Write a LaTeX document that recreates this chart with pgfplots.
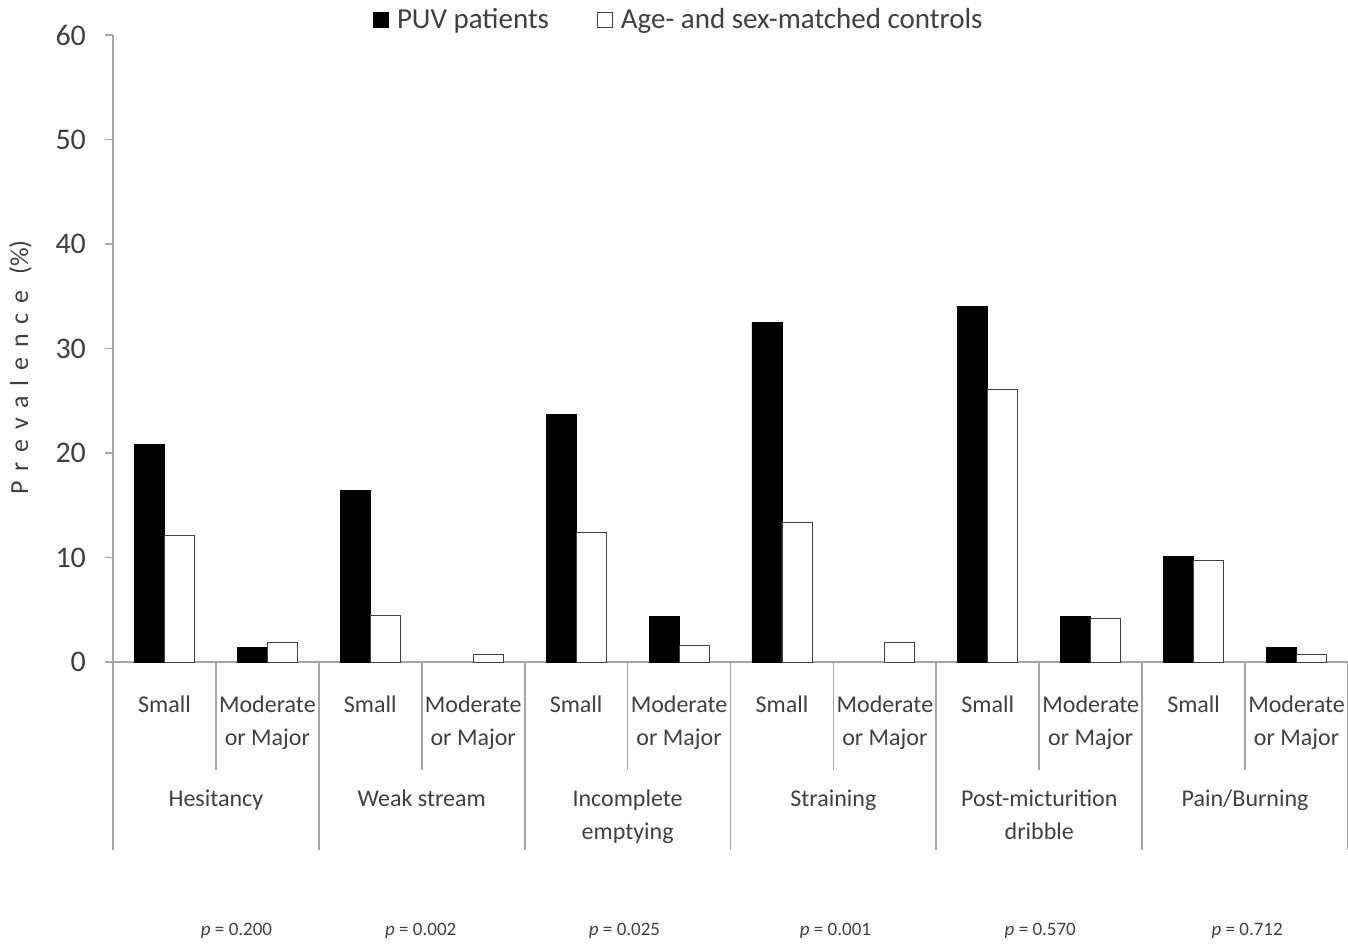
\documentclass[border=0pt]{standalone}
\usepackage{pgfplots}
\pgfplotsset{compat=1.18}
\usepackage{fontspec}
\setmainfont{Carlito}
\definecolor{axgray}{HTML}{A6A6A6}
\definecolor{txt}{HTML}{404040}
\begin{document}
\begin{tikzpicture}
\begin{axis}[
 name=ax,
 scale only axis, width=617.5pt, height=313.5pt,
 xmin=-0.5, xmax=11.5, ymin=0, ymax=60,
 ybar=0pt, bar width=15pt,
 axis x line*=bottom, axis y line*=left,
 axis line style={axgray, line width=0.9pt, -},
 ytick={0,10,...,60},
 /pgf/number format/assume math mode=true,
 yticklabel style={font=\fontsize{15}{18}\selectfont, text=txt, xshift=-6pt},
 xtick={0,...,11},
 xticklabels={Small,Moderate\\or Major,Small,Moderate\\or Major,Small,Moderate\\or Major,Small,Moderate\\or Major,Small,Moderate\\or Major,Small,Moderate\\or Major},
 xticklabel style={font=\fontsize{12}{16.5}\selectfont, text=txt, align=center, anchor=north, inner sep=0pt, yshift=-12.5pt},
 x tick style={draw=none},
 y tick style={axgray, line width=0.9pt},
 tick align=outside, major tick length=4pt,
 ylabel={\addfontfeature{LetterSpace=38}Prevalence \addfontfeature{LetterSpace=0}(\%)},
 ylabel style={font=\fontsize{13}{16}\selectfont, text=txt, at={(axis description cs:-0.075,0.47)}, anchor=center},
 clip=false,
 legend columns=2,
 legend style={draw=none, at={(0.459,1.024)}, anchor=center, font=\fontsize{14.5}{17}\selectfont, text=txt,
   /tikz/every odd column/.append style={column sep=2pt},
   /tikz/every even column/.append style={column sep=22pt}},
 legend image code/.code={\draw[#1] (0pt,-3.75pt) rectangle (7.5pt,3.75pt);},
]
\addplot[fill=black, draw=black] coordinates {
 (0,20.8) (1,1.4) (2,16.4) (4,23.7) (5,4.4) (6,32.5) (8,34.0) (9,4.4) (10,10.1) (11,1.4)};
\addplot[fill=white, draw=black!75] coordinates {
 (0,12.1) (1,1.9) (2,4.5) (3,0.7) (4,12.4) (5,1.6) (6,13.4) (7,1.9) (8,26.1) (9,4.2) (10,9.7) (11,0.7)};
\legend{PUV patients, Age- and sex-matched controls}
% separators
\draw[axgray, line width=0.9pt] (axis cs:0.5,0) -- (axis cs:0.5,-10.3);
\draw[axgray, line width=0.9pt] (axis cs:2.5,0) -- (axis cs:2.5,-10.3);
\draw[axgray, line width=0.9pt] (axis cs:4.5,0) -- (axis cs:4.5,-10.3);
\draw[axgray, line width=0.9pt] (axis cs:6.5,0) -- (axis cs:6.5,-10.3);
\draw[axgray, line width=0.9pt] (axis cs:8.5,0) -- (axis cs:8.5,-10.3);
\draw[axgray, line width=0.9pt] (axis cs:10.5,0) -- (axis cs:10.5,-10.3);
\draw[axgray, line width=0.9pt] (axis cs:-0.5,0) -- (axis cs:-0.5,-18);
\draw[axgray, line width=0.9pt] (axis cs:1.5,0) -- (axis cs:1.5,-18);
\draw[axgray, line width=0.9pt] (axis cs:3.5,0) -- (axis cs:3.5,-18);
\draw[axgray, line width=0.9pt] (axis cs:5.5,0) -- (axis cs:5.5,-18);
\draw[axgray, line width=0.9pt] (axis cs:7.5,0) -- (axis cs:7.5,-18);
\draw[axgray, line width=0.9pt] (axis cs:9.5,0) -- (axis cs:9.5,-18);
\draw[axgray, line width=0.9pt] (axis cs:11.5,0) -- (axis cs:11.5,-18);
% group names
\begin{scope}[every node/.style={anchor=north, align=center, inner sep=0pt, text=txt, font=\fontsize{12}{16.5}\selectfont}]
\node at (axis cs:0.5,-12.2) {Hesitancy};
\node at (axis cs:2.5,-12.2) {Weak stream};
\node at (axis cs:4.5,-12.2) {Incomplete\\emptying};
\node at (axis cs:6.5,-12.2) {Straining};
\node at (axis cs:8.5,-12.2) {Post-micturition\\dribble};
\node at (axis cs:10.5,-12.2) {Pain/Burning};
\end{scope}
% p-values
\begin{scope}[every node/.style={anchor=base, inner sep=0pt, text=txt, font=\fontsize{9.5}{11}\selectfont}]
\node at (axis cs:0.7,-26.2) {\textit{p} = 0.200};
\node at (axis cs:2.49,-26.2) {\textit{p} = 0.002};
\node at (axis cs:4.47,-26.2) {\textit{p} = 0.025};
\node at (axis cs:6.52,-26.2) {\textit{p} = 0.001};
\node at (axis cs:8.51,-26.2) {\textit{p} = 0.570};
\node at (axis cs:10.52,-26.2) {\textit{p} = 0.712};
\end{scope}
\end{axis}
\pgfresetboundingbox
\path ([xshift=-56.5pt, yshift=-141pt]ax.south west) rectangle ([yshift=17.5pt]ax.north east);
\end{tikzpicture}
\end{document}
